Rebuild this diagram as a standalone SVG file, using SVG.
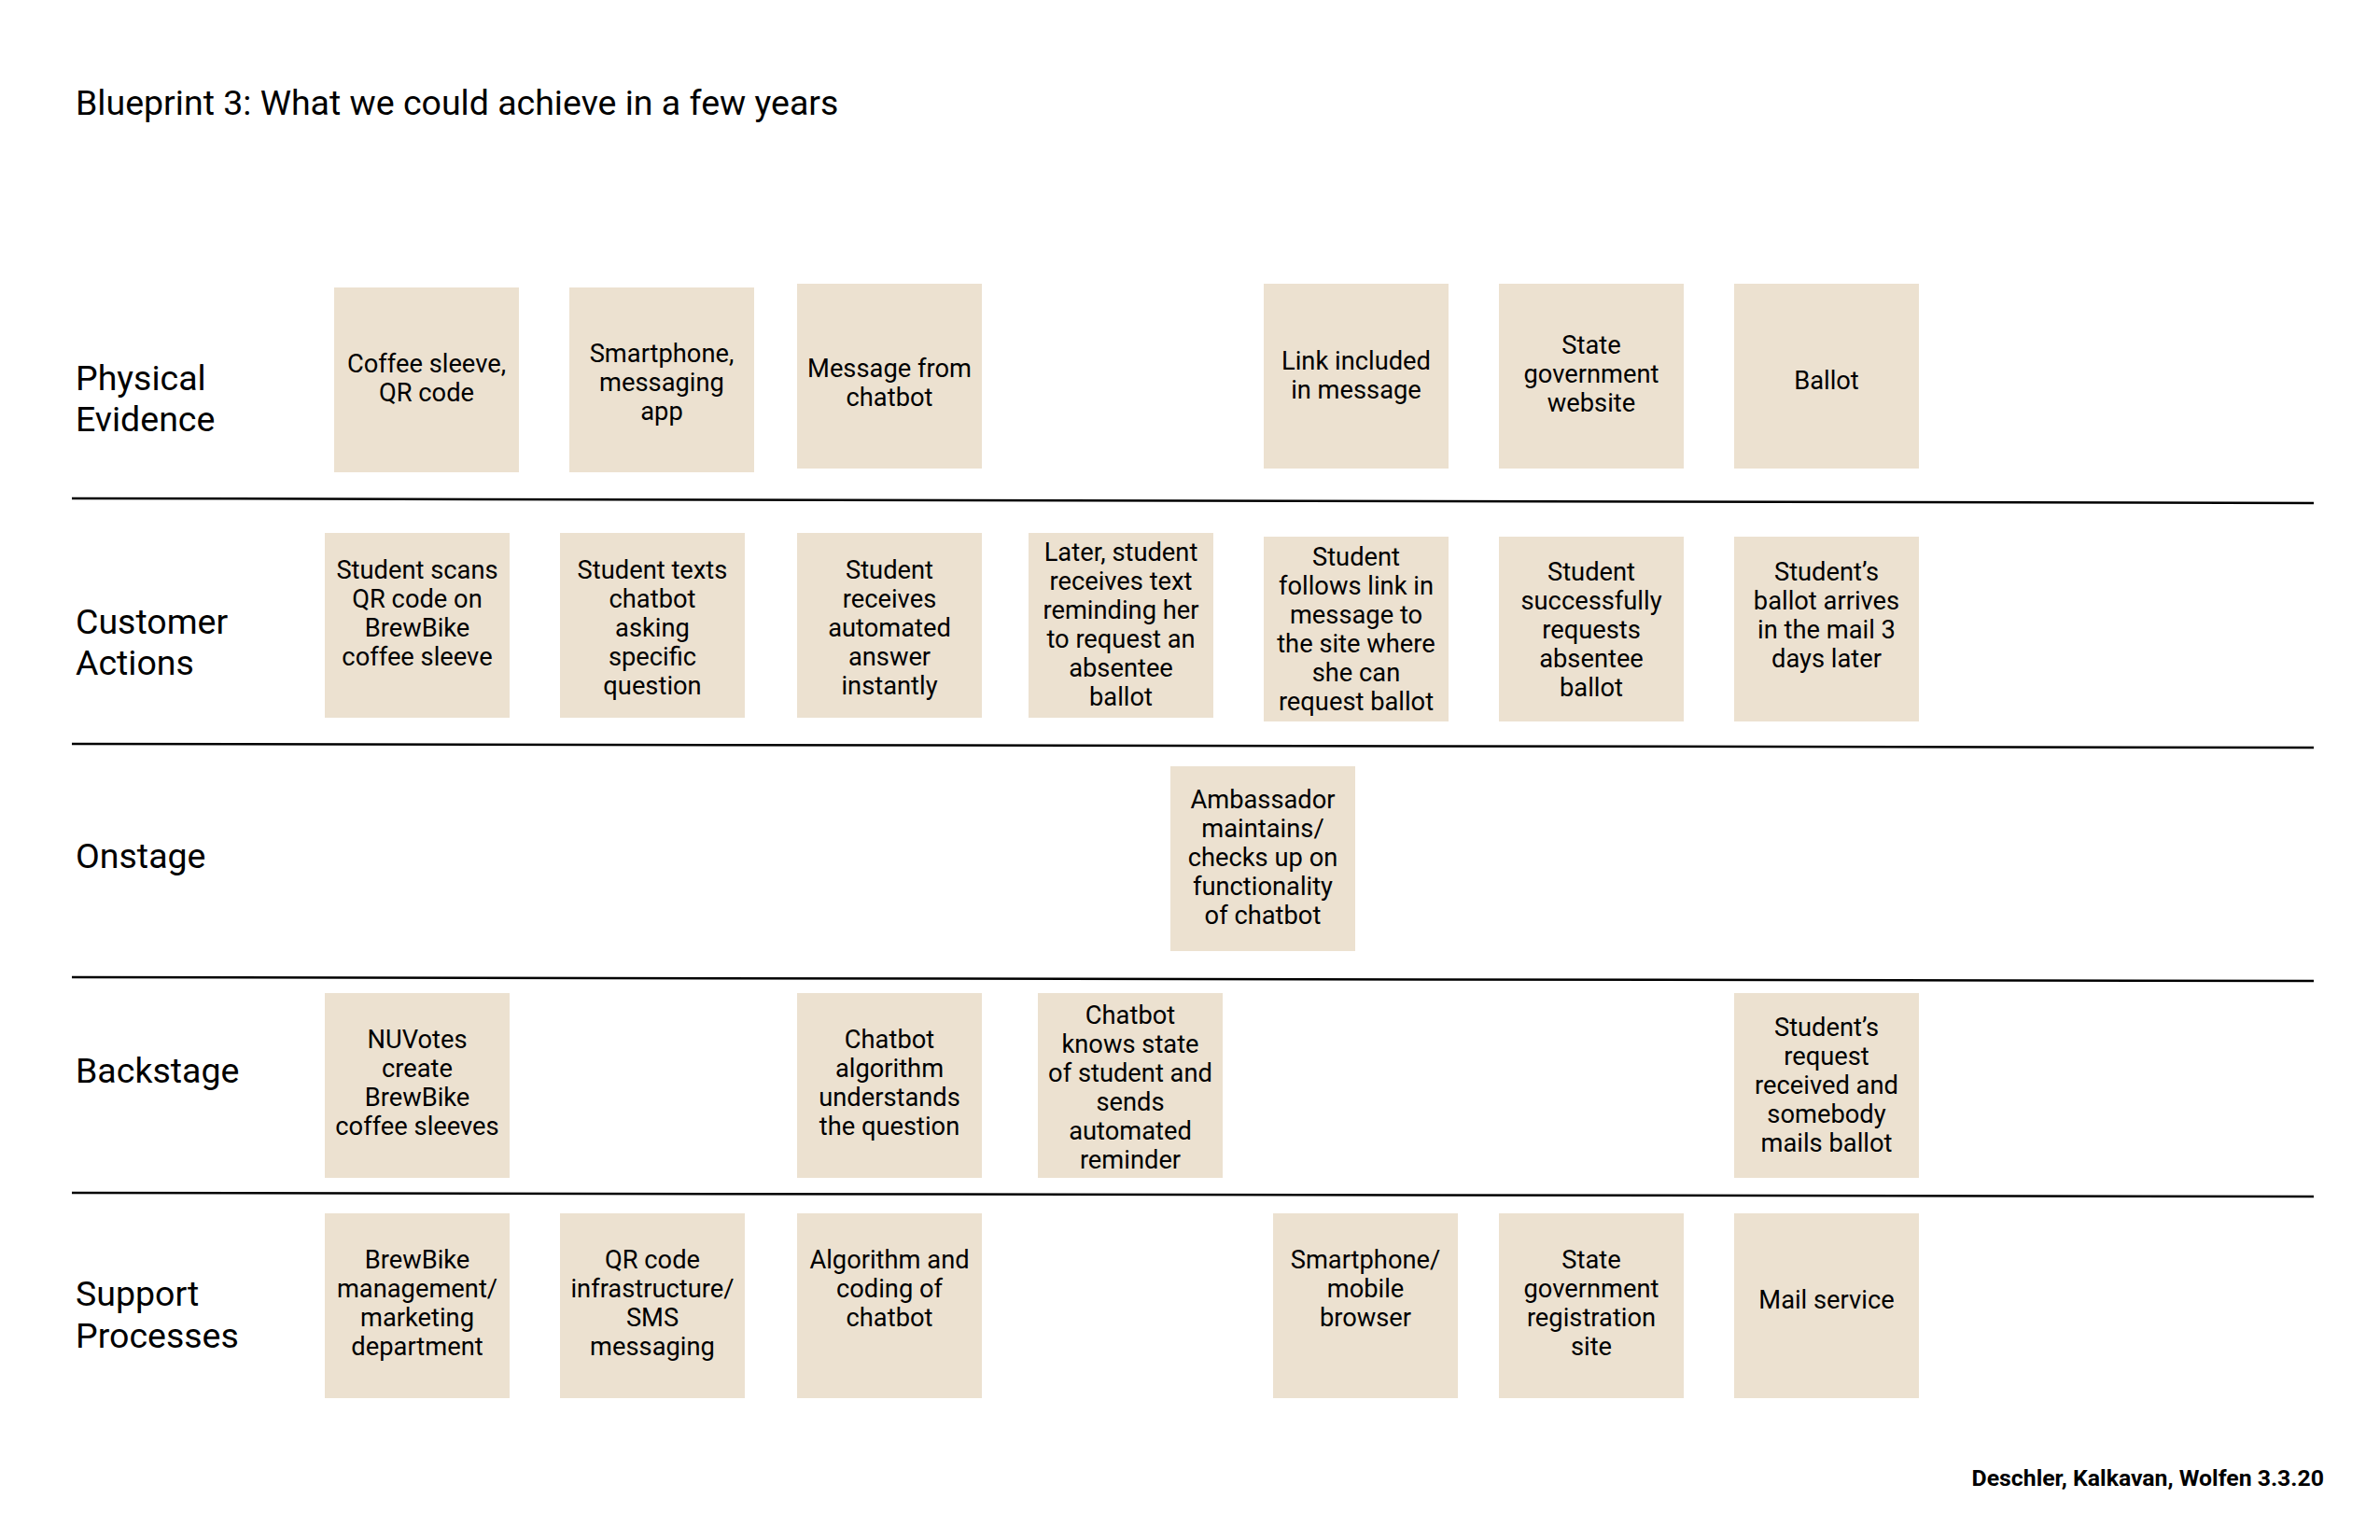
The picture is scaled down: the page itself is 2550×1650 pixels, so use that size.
<svg xmlns="http://www.w3.org/2000/svg" width="2550" height="1650" viewBox="0 0 2550 1650">
<style>
.bg{fill:#ffffff}
.card{fill:#ECE1D0}
.t{font-family:Roboto,"Liberation Sans",sans-serif;font-size:27.3px;fill:#000;text-anchor:middle}
.lab{font-family:Roboto,"Liberation Sans",sans-serif;font-size:37.5px;fill:#000}
.foot{font-family:Roboto,"Liberation Sans",sans-serif;font-size:24.8px;font-weight:bold;fill:#000;text-anchor:end}
.div{stroke:#000;stroke-width:2.5;fill:none}
</style>
<rect class="bg" x="0" y="0" width="2550" height="1650"/>
<text id="title" class="lab" x="81" y="123">Blueprint 3: What we could achieve in a few years</text>
<g id="lane-labels">
<text class="lab" x="81" y="418">Physical</text>
<text class="lab" x="81" y="462">Evidence</text>
<text class="lab" x="81" y="679">Customer</text>
<text class="lab" x="81" y="722.5">Actions</text>
<text class="lab" x="81" y="929.5">Onstage</text>
<text class="lab" x="81" y="1159.5">Backstage</text>
<text class="lab" x="81" y="1399">Support</text>
<text class="lab" x="81" y="1443.5">Processes</text>
</g>
<g id="dividers">
<line class="div" x1="77" y1="534" x2="2479" y2="539"/>
<line class="div" x1="77" y1="797" x2="2479" y2="801"/>
<line class="div" x1="77" y1="1047" x2="2479" y2="1051"/>
<line class="div" x1="77" y1="1278" x2="2479" y2="1282"/>
</g>
<g id="pe1"><rect class="card" x="358" y="308" width="198" height="198"/><text class="t" x="457" y="399"><tspan x="457">Coffee sleeve,</tspan><tspan x="457" dy="31">QR code</tspan></text></g>
<g id="pe2"><rect class="card" x="610" y="308" width="198" height="198"/><text class="t" x="709" y="387.5"><tspan x="709">Smartphone,</tspan><tspan x="709" dy="31">messaging</tspan><tspan x="709" dy="31">app</tspan></text></g>
<g id="pe3"><rect class="card" x="854" y="304" width="198" height="198"/><text class="t" x="953" y="403.5"><tspan x="953">Message from</tspan><tspan x="953" dy="31">chatbot</tspan></text></g>
<g id="pe5"><rect class="card" x="1354" y="304" width="198" height="198"/><text class="t" x="1453" y="395.5"><tspan x="1453">Link included</tspan><tspan x="1453" dy="31">in message</tspan></text></g>
<g id="pe6"><rect class="card" x="1606" y="304" width="198" height="198"/><text class="t" x="1705" y="378.5"><tspan x="1705">State</tspan><tspan x="1705" dy="31">government</tspan><tspan x="1705" dy="31">website</tspan></text></g>
<g id="pe7"><rect class="card" x="1858" y="304" width="198" height="198"/><text class="t" x="1957" y="416.5">Ballot</text></g>

<g id="ca1"><rect class="card" x="348" y="571" width="198" height="198"/><text class="t" x="447" y="619.5"><tspan x="447">Student scans</tspan><tspan x="447" dy="31">QR code on</tspan><tspan x="447" dy="31">BrewBike</tspan><tspan x="447" dy="31">coffee sleeve</tspan></text></g>
<g id="ca2"><rect class="card" x="600" y="571" width="198" height="198"/><text class="t" x="699" y="619.5"><tspan x="699">Student texts</tspan><tspan x="699" dy="31">chatbot</tspan><tspan x="699" dy="31">asking</tspan><tspan x="699" dy="31">specific</tspan><tspan x="699" dy="31">question</tspan></text></g>
<g id="ca3"><rect class="card" x="854" y="571" width="198" height="198"/><text class="t" x="953" y="619.5"><tspan x="953">Student</tspan><tspan x="953" dy="31">receives</tspan><tspan x="953" dy="31">automated</tspan><tspan x="953" dy="31">answer</tspan><tspan x="953" dy="31">instantly</tspan></text></g>
<g id="ca4"><rect class="card" x="1102" y="571" width="198" height="198"/><text class="t" x="1201" y="601"><tspan x="1201">Later, student</tspan><tspan x="1201" dy="31">receives text</tspan><tspan x="1201" dy="31">reminding her</tspan><tspan x="1201" dy="31">to request an</tspan><tspan x="1201" dy="31">absentee</tspan><tspan x="1201" dy="31">ballot</tspan></text></g>
<g id="ca5"><rect class="card" x="1354" y="575" width="198" height="198"/><text class="t" x="1453" y="606"><tspan x="1453">Student</tspan><tspan x="1453" dy="31">follows link in</tspan><tspan x="1453" dy="31">message to</tspan><tspan x="1453" dy="31">the site where</tspan><tspan x="1453" dy="31">she can</tspan><tspan x="1453" dy="31">request ballot</tspan></text></g>
<g id="ca6"><rect class="card" x="1606" y="575" width="198" height="198"/><text class="t" x="1705" y="621.5"><tspan x="1705">Student</tspan><tspan x="1705" dy="31">successfully</tspan><tspan x="1705" dy="31">requests</tspan><tspan x="1705" dy="31">absentee</tspan><tspan x="1705" dy="31">ballot</tspan></text></g>
<g id="ca7"><rect class="card" x="1858" y="575" width="198" height="198"/><text class="t" x="1957" y="621.5"><tspan x="1957">Student’s</tspan><tspan x="1957" dy="31">ballot arrives</tspan><tspan x="1957" dy="31">in the mail 3</tspan><tspan x="1957" dy="31">days later</tspan></text></g>

<g id="on1"><rect class="card" x="1254" y="821" width="198" height="198"/><text class="t" x="1353" y="865.5"><tspan x="1353">Ambassador</tspan><tspan x="1353" dy="31">maintains/</tspan><tspan x="1353" dy="31">checks up on</tspan><tspan x="1353" dy="31">functionality</tspan><tspan x="1353" dy="31">of chatbot</tspan></text></g>

<g id="bs1"><rect class="card" x="348" y="1064" width="198" height="198"/><text class="t" x="447" y="1123"><tspan x="447">NUVotes</tspan><tspan x="447" dy="31">create</tspan><tspan x="447" dy="31">BrewBike</tspan><tspan x="447" dy="31">coffee sleeves</tspan></text></g>
<g id="bs3"><rect class="card" x="854" y="1064" width="198" height="198"/><text class="t" x="953" y="1123"><tspan x="953">Chatbot</tspan><tspan x="953" dy="31">algorithm</tspan><tspan x="953" dy="31">understands</tspan><tspan x="953" dy="31">the question</tspan></text></g>
<g id="bs4"><rect class="card" x="1112" y="1064" width="198" height="198"/><text class="t" x="1211" y="1097"><tspan x="1211">Chatbot</tspan><tspan x="1211" dy="31">knows state</tspan><tspan x="1211" dy="31">of student and</tspan><tspan x="1211" dy="31">sends</tspan><tspan x="1211" dy="31">automated</tspan><tspan x="1211" dy="31">reminder</tspan></text></g>
<g id="bs7"><rect class="card" x="1858" y="1064" width="198" height="198"/><text class="t" x="1957" y="1110"><tspan x="1957">Student’s</tspan><tspan x="1957" dy="31">request</tspan><tspan x="1957" dy="31">received and</tspan><tspan x="1957" dy="31">somebody</tspan><tspan x="1957" dy="31">mails ballot</tspan></text></g>

<g id="sp1"><rect class="card" x="348" y="1300" width="198" height="198"/><text class="t" x="447" y="1359"><tspan x="447">BrewBike</tspan><tspan x="447" dy="31">management/</tspan><tspan x="447" dy="31">marketing</tspan><tspan x="447" dy="31">department</tspan></text></g>
<g id="sp2"><rect class="card" x="600" y="1300" width="198" height="198"/><text class="t" x="699" y="1359"><tspan x="699">QR code</tspan><tspan x="699" dy="31">infrastructure/</tspan><tspan x="699" dy="31">SMS</tspan><tspan x="699" dy="31">messaging</tspan></text></g>
<g id="sp3"><rect class="card" x="854" y="1300" width="198" height="198"/><text class="t" x="953" y="1359"><tspan x="953">Algorithm and</tspan><tspan x="953" dy="31">coding of</tspan><tspan x="953" dy="31">chatbot</tspan></text></g>
<g id="sp5"><rect class="card" x="1364" y="1300" width="198" height="198"/><text class="t" x="1463" y="1359"><tspan x="1463">Smartphone/</tspan><tspan x="1463" dy="31">mobile</tspan><tspan x="1463" dy="31">browser</tspan></text></g>
<g id="sp6"><rect class="card" x="1606" y="1300" width="198" height="198"/><text class="t" x="1705" y="1359"><tspan x="1705">State</tspan><tspan x="1705" dy="31">government</tspan><tspan x="1705" dy="31">registration</tspan><tspan x="1705" dy="31">site</tspan></text></g>
<g id="sp7"><rect class="card" x="1858" y="1300" width="198" height="198"/><text class="t" x="1957" y="1402">Mail service</text></g>

<text id="footer" class="foot" x="2490" y="1592">Deschler, Kalkavan, Wolfen 3.3.20</text>
</svg>
